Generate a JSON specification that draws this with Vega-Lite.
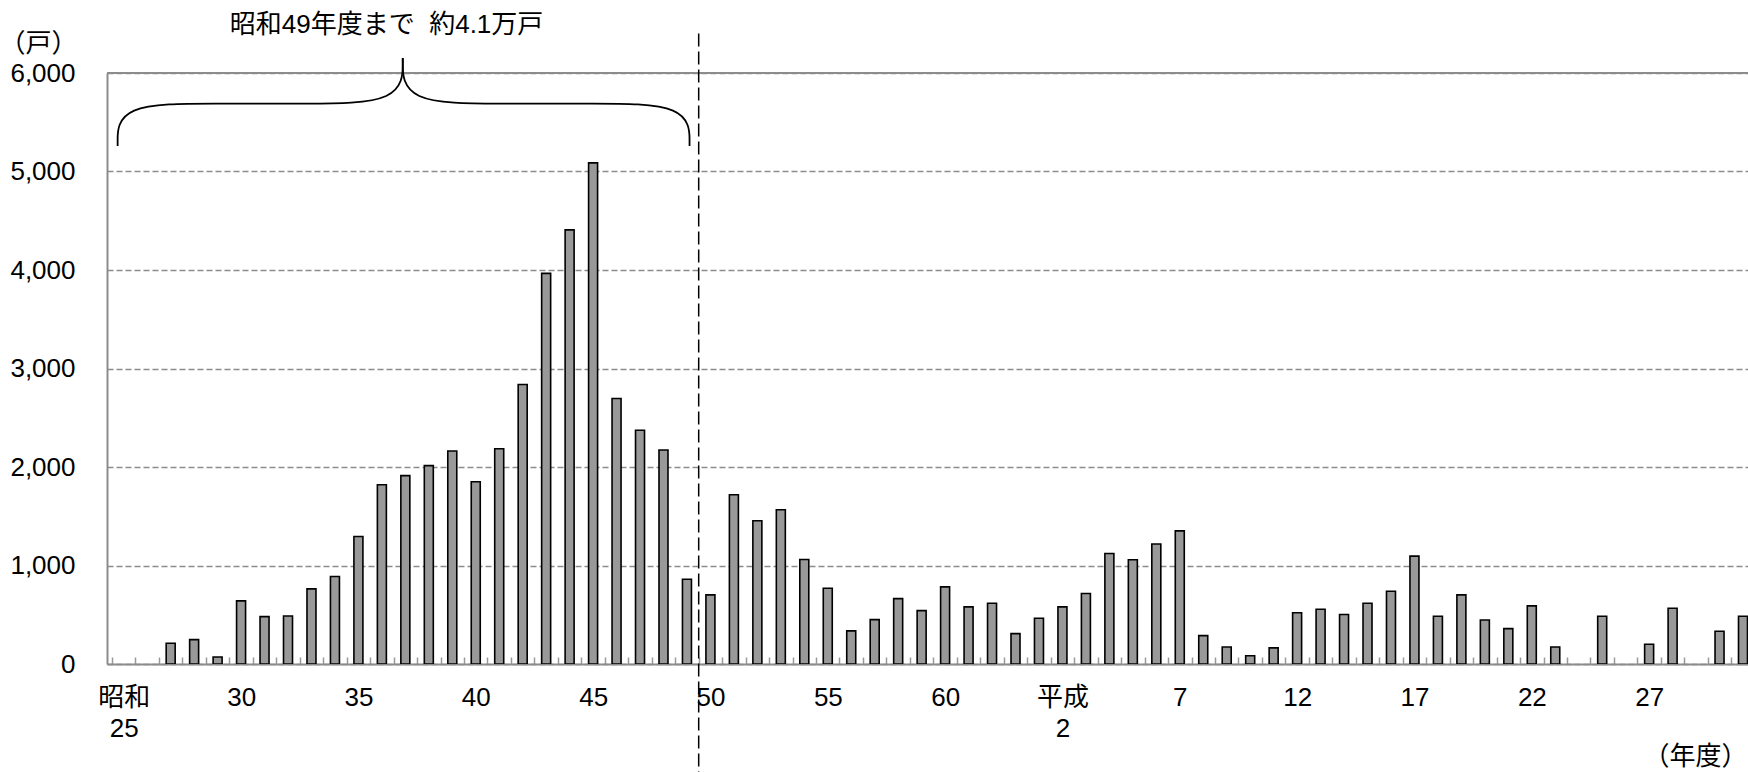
{
  "$schema": "https://vega.github.io/schema/vega-lite/v6.json",
  "width": 1641,
  "height": 591,
  "autosize": {"type": "none"},
  "padding": {"left": 107, "top": 73, "right": 0, "bottom": 108},
  "background": "white",
  "config": {
    "view": {"stroke": null},
    "font": "Liberation Sans, Noto Sans CJK JP, sans-serif"
  },
  "resolve": {"axis": {"x": "independent", "y": "independent"}},
  "layer": [
    {
      "data": {"values": [
        {"year": 1952, "units": 210}, {"year": 1953, "units": 247}, {"year": 1954, "units": 71},
        {"year": 1955, "units": 641}, {"year": 1956, "units": 481}, {"year": 1957, "units": 488},
        {"year": 1958, "units": 763}, {"year": 1959, "units": 888}, {"year": 1960, "units": 1295},
        {"year": 1961, "units": 1820}, {"year": 1962, "units": 1912}, {"year": 1963, "units": 2014},
        {"year": 1964, "units": 2163}, {"year": 1965, "units": 1851}, {"year": 1966, "units": 2186},
        {"year": 1967, "units": 2837}, {"year": 1968, "units": 3966}, {"year": 1969, "units": 4407},
        {"year": 1970, "units": 5088}, {"year": 1971, "units": 2695}, {"year": 1972, "units": 2373},
        {"year": 1973, "units": 2173}, {"year": 1974, "units": 861}, {"year": 1975, "units": 702},
        {"year": 1976, "units": 1719}, {"year": 1977, "units": 1454}, {"year": 1978, "units": 1566},
        {"year": 1979, "units": 1061}, {"year": 1980, "units": 769}, {"year": 1981, "units": 336},
        {"year": 1982, "units": 451}, {"year": 1983, "units": 664}, {"year": 1984, "units": 542},
        {"year": 1985, "units": 783}, {"year": 1986, "units": 580}, {"year": 1987, "units": 617},
        {"year": 1988, "units": 308}, {"year": 1989, "units": 464}, {"year": 1990, "units": 580},
        {"year": 1991, "units": 715}, {"year": 1992, "units": 1122}, {"year": 1993, "units": 1058},
        {"year": 1994, "units": 1218}, {"year": 1995, "units": 1352}, {"year": 1996, "units": 288},
        {"year": 1997, "units": 172}, {"year": 1998, "units": 83}, {"year": 1999, "units": 164},
        {"year": 2000, "units": 520}, {"year": 2001, "units": 556}, {"year": 2002, "units": 502},
        {"year": 2003, "units": 617}, {"year": 2004, "units": 739}, {"year": 2005, "units": 1095},
        {"year": 2006, "units": 485}, {"year": 2007, "units": 702}, {"year": 2008, "units": 447},
        {"year": 2009, "units": 359}, {"year": 2010, "units": 590}, {"year": 2011, "units": 173},
        {"year": 2013, "units": 485}, {"year": 2015, "units": 200}, {"year": 2016, "units": 566},
        {"year": 2018, "units": 332}, {"year": 2019, "units": 485}
      ]},
      "mark": {"type": "bar", "orient": "vertical", "width": 9, "fill": "#999999", "stroke": "#000000", "strokeWidth": 1.6, "clip": true},
      "encoding": {
        "x": {
          "field": "year", "type": "quantitative",
          "scale": {"domain": [1949.5, 2019.0], "nice": false, "zero": false},
          "axis": {
            "values": [1949.5,1950.5,1951.5,1952.5,1953.5,1954.5,1955.5,1956.5,1957.5,1958.5,1959.5,1960.5,1961.5,1962.5,1963.5,1964.5,1965.5,1966.5,1967.5,1968.5,1969.5,1970.5,1971.5,1972.5,1973.5,1974.5,1975.5,1976.5,1977.5,1978.5,1979.5,1980.5,1981.5,1982.5,1983.5,1984.5,1985.5,1986.5,1987.5,1988.5,1989.5,1990.5,1991.5,1992.5,1993.5,1994.5,1995.5,1996.5,1997.5,1998.5,1999.5,2000.5,2001.5,2002.5,2003.5,2004.5,2005.5,2006.5,2007.5,2008.5,2009.5,2010.5,2011.5,2012.5,2013.5,2014.5,2015.5,2016.5,2017.5,2018.5],
            "labelExpr": "datum.value == 1949.5 ? ['昭和', '25'] : datum.value == 1989.5 ? ['平成', '2'] : ((datum.value - 1949.5) % 5 == 0 ? (datum.value < 1989 ? '' + (datum.value - 1924.5) : '' + (datum.value - 1987.5)) : '')",
            "labelOffset": 11.8,
            "labelFontSize": 26,
            "labelColor": "#000000",
            "labelLineHeight": 31,
            "labelOverlap": false,
            "labelFlush": false,
            "labelBound": false,
            "labelAngle": 0,
            "labelAlign": "center",
            "labelBaseline": "top",
            "labelPadding": 27,
            "tickSize": -7,
            "tickColor": "#999999",
            "tickWidth": 1.5,
            "domainColor": "#8c8c8c",
            "domainWidth": 2,
            "grid": false,
            "title": "（年度）",
            "titleX": 1588,
            "titleY": 92,
            "titleAlign": "center",
            "titleBaseline": "middle",
            "titleFontSize": 26,
            "titleFontWeight": "normal",
            "titleColor": "#000000"
          }
        },
        "y": {
          "field": "units", "type": "quantitative",
          "scale": {"domain": [0, 6000], "nice": false},
          "axis": {
            "values": [0, 1000, 2000, 3000, 4000, 5000, 6000],
            "format": ",d",
            "labelFontSize": 26,
            "labelColor": "#000000",
            "labelPadding": 32,
            "ticks": false,
            "domainColor": "#8c8c8c",
            "domainWidth": 2,
            "grid": true,
            "gridColor": "#8c8c8c",
            "gridDash": [6, 3],
            "gridWidth": 1.3,
            "title": "（戸）",
            "titleAngle": 0,
            "titleX": -69,
            "titleY": -30,
            "titleAlign": "center",
            "titleBaseline": "middle",
            "titleFontSize": 26,
            "titleFontWeight": "normal",
            "titleColor": "#000000"
          }
        }
      }
    },
    {
      "data": {"values": [{}]},
      "mark": {"type": "rule", "color": "#8c8c8c", "strokeWidth": 2},
      "encoding": {"y": {"datum": 6000, "axis": null}}
    },
    {
      "data": {"values": [{}]},
      "mark": {"type": "rule", "color": "#000000", "strokeWidth": 1.5, "strokeDash": [13, 5], "clip": false},
      "encoding": {"x": {"datum": 1974.5, "axis": null}, "y": {"datum": 6400, "axis": null}, "y2": {"datum": -1100}}
    },
    {
      "data": {"values": [
        {"side": "L", "i": 0, "bx": 1949.74, "by": 5259},
        {"side": "L", "i": 1, "bx": 1949.74, "by": 5690},
        {"side": "L", "i": 2, "bx": 1953.97, "by": 5690},
        {"side": "L", "i": 3, "bx": 1957.65, "by": 5690},
        {"side": "L", "i": 4, "bx": 1961.89, "by": 5690},
        {"side": "L", "i": 5, "bx": 1961.89, "by": 6152},
        {"side": "R", "i": 0, "bx": 1974.11, "by": 5259},
        {"side": "R", "i": 1, "bx": 1974.11, "by": 5690},
        {"side": "R", "i": 2, "bx": 1969.87, "by": 5690},
        {"side": "R", "i": 3, "bx": 1966.12, "by": 5690},
        {"side": "R", "i": 4, "bx": 1961.89, "by": 5690},
        {"side": "R", "i": 5, "bx": 1961.89, "by": 6152}
      ]},
      "mark": {"type": "line", "interpolate": "basis", "color": "#000000", "strokeWidth": 1.8, "clip": false},
      "encoding": {
        "x": {"field": "bx", "type": "quantitative", "axis": null},
        "y": {"field": "by", "type": "quantitative", "axis": null},
        "detail": {"field": "side"},
        "order": {"field": "i"}
      }
    },
    {
      "data": {"values": [{"note": "昭和49年度まで\u00a0\u00a0約4.1万戸"}]},
      "mark": {"type": "text", "fontSize": 26, "align": "center", "baseline": "middle", "color": "#000000", "clip": false},
      "encoding": {
        "x": {"datum": 1961.2, "axis": null},
        "y": {"datum": 6492, "axis": null},
        "text": {"field": "note"}
      }
    }
  ]
}
